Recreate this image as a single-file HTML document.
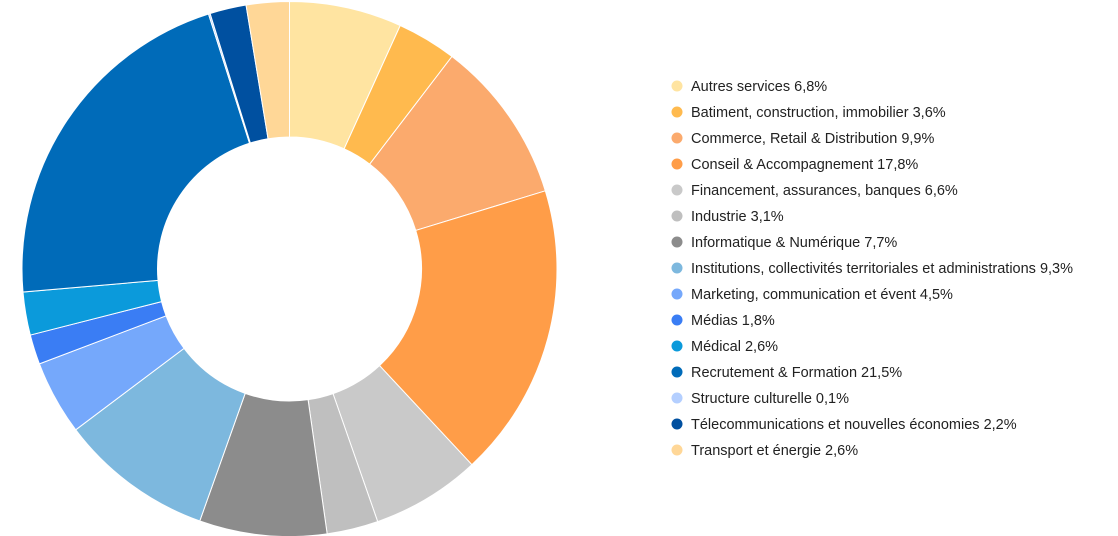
<!DOCTYPE html>
<html><head><meta charset="utf-8"><style>
body{margin:0;background:#fff;width:1118px;height:536px;overflow:hidden;font-family:"Liberation Sans",sans-serif}
svg{display:block}
</style></head><body>
<svg id="chart" width="1118" height="536">
<g id="slices"></g>
<g id="legend"></g>
</svg>
<script>
const categories=["Autres services","Batiment, construction, immobilier","Commerce, Retail & Distribution","Conseil & Accompagnement","Financement, assurances, banques","Industrie","Informatique & Numérique","Institutions, collectivités territoriales et administrations","Marketing, communication et évent","Médias","Médical","Recrutement & Formation","Structure culturelle","Télecommunications et nouvelles économies","Transport et énergie"];
const values=[6.8,3.6,9.9,17.8,6.6,3.1,7.7,9.3,4.5,1.8,2.6,21.5,0.1,2.2,2.6];
const valueLabels=["6,8%","3,6%","9,9%","17,8%","6,6%","3,1%","7,7%","9,3%","4,5%","1,8%","2,6%","21,5%","0,1%","2,2%","2,6%"];
const colors=["#FFE4A1","#FFBA4E","#FBAA6D","#FF9D48","#C9C9C9","#BFBFBF","#8C8C8C","#7DB8DE","#75A8FB","#3A7DF4","#0B9ADB","#006BB9","#B4CFFF","#0050A0","#FFD797"];
const NS="http://www.w3.org/2000/svg";
const cx=289.5,cy=269,R=267.5,r=132;
const total=values.reduce((a,b)=>a+b,0);
const sg=document.getElementById('slices');
function pt(rad,a){return [cx+rad*Math.sin(a),cy-rad*Math.cos(a)];}
let acc=0;
values.forEach((v,i)=>{
  const a0=acc/total*2*Math.PI;acc+=v;const a1=acc/total*2*Math.PI;
  const lg=(a1-a0)>Math.PI?1:0;
  const [x0,y0]=pt(R,a0),[x1,y1]=pt(R,a1),[x2,y2]=pt(r,a1),[x3,y3]=pt(r,a0);
  const p=document.createElementNS(NS,'path');
  p.setAttribute('d',`M${x0},${y0}A${R},${R} 0 ${lg} 1 ${x1},${y1}L${x2},${y2}A${r},${r} 0 ${lg} 0 ${x3},${y3}Z`);
  p.setAttribute('fill',colors[i]);p.setAttribute('stroke','#fff');p.setAttribute('stroke-width','1');
  
  
  sg.appendChild(p);
});
const lg=document.getElementById('legend');
categories.forEach((c,i)=>{
  const y=86+i*26;
  const g=document.createElementNS(NS,'g');
  
  
  const m=document.createElementNS(NS,'circle');
  m.setAttribute('cx',677);m.setAttribute('cy',y);m.setAttribute('r',5.5);m.setAttribute('fill',colors[i]);
  
  
  const t=document.createElementNS(NS,'text');
  t.setAttribute('x',691);t.setAttribute('y',y+5);t.setAttribute('font-size','14.5');t.setAttribute('fill','#222');
  t.setAttribute('font-family','"Liberation Sans",sans-serif');
  t.textContent=c+' '+valueLabels[i];
  
  
  g.appendChild(m);g.appendChild(t);lg.appendChild(g);
});
</script>
</body></html>
